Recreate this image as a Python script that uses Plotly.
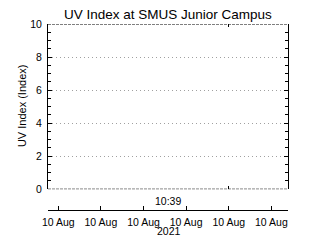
import plotly.graph_objects as go

# Data
obs_times = ["2021-08-10 10:39:00"]
uv_values = [0.0]
tick_times = ["2021-08-10 10:37:00", "2021-08-10 10:38:00", "2021-08-10 10:39:00",
              "2021-08-10 10:40:00", "2021-08-10 10:41:00", "2021-08-10 10:42:00"]
tick_labels = ["10 Aug"] * 6
box_tick_times = ["2021-08-10 10:41:00"]
y_ticks = [0, 2, 4, 6, 8, 10]
title_text = "UV Index at SMUS Junior Campus"
y_title = "UV Index (Index)"
time_label = "10:39"
year_label = "2021"

x_range = ["2021-08-10 10:36:45.6", "2021-08-10 10:42:23.4"]

FONT = "Liberation Sans"
W, H = 320, 240
L, R, T, B = 48, 32, 24, 28
plot_h = H - T - B
box_bottom_px = 191
y_dom0 = (H - B - box_bottom_px) / plot_h

fig = go.Figure()
fig.add_trace(go.Scatter(x=obs_times, y=uv_values, mode="lines",
                         line=dict(color="black", width=1), showlegend=False,
                         xaxis="x", yaxis="y"))
fig.add_trace(go.Scatter(x=obs_times, y=uv_values, mode="lines",
                         line=dict(color="rgba(0,0,0,0)", width=0), showlegend=False,
                         xaxis="x2", yaxis="y2", hoverinfo="skip"))

fig.update_layout(
    width=W, height=H,
    margin=dict(l=L, r=R, t=T, b=B, pad=0),
    paper_bgcolor="white", plot_bgcolor="white",
    font=dict(family=FONT, size=10.5, color="black"),
    showlegend=False,
    xaxis=dict(
        type="date", range=x_range, anchor="free", position=0,
        tickmode="array", tickvals=tick_times, ticktext=tick_labels,
        ticks="inside", ticklen=4, tickwidth=1, tickcolor="black",
        showline=True, linecolor="black", linewidth=1,
        showgrid=False, zeroline=False, ticklabelstandoff=2,
        tickfont=dict(family=FONT, size=10.5, color="black"),
    ),
    xaxis2=dict(
        type="date", range=x_range, overlaying="x", anchor="y2", side="bottom",
        tickmode="array", tickvals=box_tick_times,
        ticks="inside", ticklen=3, tickwidth=1, tickcolor="black",
        showline=True, linecolor="rgba(0,0,0,0)", mirror="ticks",
        showgrid=False, zeroline=False, showticklabels=False,
    ),
    yaxis=dict(
        domain=[y_dom0, 1], range=[0, 10],
        tickmode="array", tickvals=y_ticks,
        ticks="inside", ticklen=4, tickwidth=1, tickcolor="black",
        minor=dict(dtick=0.5, ticks="inside", ticklen=3, tickcolor="black", showgrid=False),
        showline=True, linecolor="black", linewidth=1,
        showgrid=True, gridcolor="#a0a0a0", griddash="1px,3px", gridwidth=1,
        zeroline=False, ticklabelstandoff=3,
        tickfont=dict(family=FONT, size=10.5, color="black"),
    ),
    yaxis2=dict(
        domain=[y_dom0, 1], range=[0, 10], overlaying="y", side="right", anchor="x2",
        tickmode="array", tickvals=y_ticks,
        ticks="inside", ticklen=4, tickwidth=1, tickcolor="black",
        minor=dict(dtick=0.5, ticks="inside", ticklen=3, tickcolor="black", showgrid=False),
        showline=True, linecolor="black", linewidth=1,
        showgrid=False, zeroline=False, showticklabels=False,
    ),
)

# Box borders (top, bottom dashed)
dash = "3px,1px"
fig.add_shape(type="line", xref="paper", yref="y", x0=0, x1=1, y0=10, y1=10,
              line=dict(color="black", width=1, dash=dash))
fig.add_shape(type="line", xref="paper", yref="y", x0=0, x1=1, y0=0, y1=0,
              line=dict(color="black", width=1, dash=dash))

fig.add_annotation(text=title_text, xref="paper", yref="paper",
                   x=(168 - L) / (W - L - R), y=(H - B - 14) / plot_h,
                   xanchor="center", yanchor="middle", showarrow=False,
                   font=dict(family=FONT, size=13.5, color="black"))
fig.add_annotation(text=y_title, xref="paper", yref="paper",
                   x=(22 - L) / (W - L - R), y=(H - B - 107) / plot_h,
                   xanchor="center", yanchor="middle", textangle=-90, showarrow=False,
                   font=dict(family=FONT, size=11, color="black"))
fig.add_annotation(text=time_label, xref="paper", yref="paper",
                   x=0.5, y=(H - B - 203) / plot_h,
                   xanchor="center", yanchor="middle", showarrow=False,
                   font=dict(family=FONT, size=10.5, color="black"))
fig.add_annotation(text=year_label, xref="paper", yref="paper",
                   x=(169 - L) / (W - L - R), y=(H - B - 233) / plot_h,
                   xanchor="center", yanchor="middle", showarrow=False,
                   font=dict(family=FONT, size=10.5, color="black"))

fig.write_html("out.html")
